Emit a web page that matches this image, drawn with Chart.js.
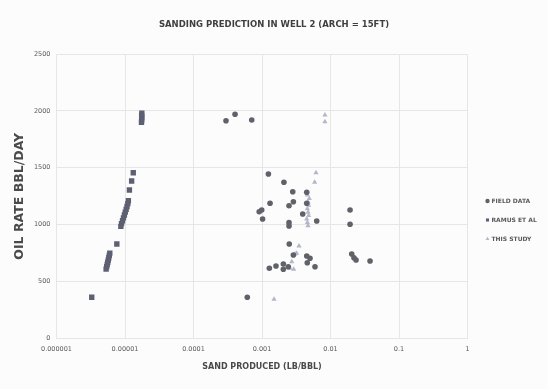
<!DOCTYPE html>
<html lang="en">
<head>
    <meta charset="UTF-8">
    <title>Sanding Prediction in Well 2</title>
    <script src="https://cdn.jsdelivr.net/npm/chart.js"></script>
    <style>
        body { margin: 0; background: #fcfcfc; }
        .chart-box { width: 548px; height: 389px; position: relative; }
    </style>
</head>
<body>
    <div class="chart-box">
        <canvas id="sandChart"></canvas>
    </div>
    <script>
        // Valores (x em LB/BBL, y em BBL/DAY)
        const fieldX = [0.000298, 0.000404, 0.000708, 0.00124, 0.00209, 0.00281, 0.0045, 0.00287, 0.00248, 0.00131,
                        0.00099, 0.00091, 0.00102, 0.0045, 0.00393, 0.00629, 0.00248, 0.00248, 0.0193, 0.0193,
                        0.0025, 0.0204, 0.022, 0.0236, 0.0378, 0.00287, 0.0045, 0.00502, 0.00458, 0.00594,
                        0.00128, 0.0016, 0.00205, 0.00205, 0.00242, 0.00061];
        const fieldY = [1914, 1970, 1920, 1446, 1373, 1290, 1285, 1202, 1167, 1188,
                        1129, 1114, 1050, 1188, 1094, 1032, 1018, 989, 1129, 1004,
                        830, 743, 710, 690, 681, 734, 725, 705, 666, 631,
                        617, 637, 655, 608, 631, 362];

        const ramusX = [0.00000327, 0.0000053, 0.0000054, 0.0000055, 0.0000056, 0.0000057, 0.0000058, 0.0000059, 0.000006,
                        0.0000076, 0.0000087, 0.0000089, 0.0000092, 0.0000095, 0.0000098, 0.0000101, 0.0000104, 0.0000107,
                        0.000011, 0.0000112, 0.0000116, 0.0000125, 0.0000132,
                        0.0000174, 0.0000175, 0.0000176, 0.0000175, 0.0000176];
        const ramusY = [362, 610, 630, 650, 670, 690, 710, 730, 750,
                        830, 985, 1010, 1035, 1060, 1085, 1110, 1135, 1160,
                        1185, 1210, 1305, 1384, 1457,
                        1900, 1920, 1940, 1960, 1980];

        const studyX = [0.0083, 0.0083, 0.00614, 0.00587, 0.0046, 0.0049, 0.0047, 0.0048, 0.0046, 0.0047,
                        0.0048, 0.0045, 0.0046, 0.0047, 0.00347, 0.00303, 0.00272, 0.00256, 0.0029, 0.0032, 0.0015];
        const studyY = [1964, 1905, 1457, 1373, 1260, 1230, 1200, 1170, 1140, 1110,
                        1080, 1050, 1020, 990, 813, 743, 675, 617, 608, 749, 344];

        const xTickValues = [0.000001, 0.00001, 0.0001, 0.001, 0.01, 0.1, 1];
        const xTickLabels = ['0.000001', '0.00001', '0.0001', '0.001', '0.01', '0.1', '1'];

        const toPoints = (xs, ys) => xs.map((x, i) => ({ x: x, y: ys[i] }));

        const textColor = '#5a5a5a';
        const gridColor = '#e6e6e6';

        // Legenda desenhada à direita, como no original
        const sideLegend = {
            id: 'sideLegend',
            afterDraw(chart) {
                const ctx = chart.ctx;
                const area = chart.chartArea;
                const x = area.right + 20;
                let y = area.top + 147;
                ctx.save();
                ctx.font = 'bold 6px "DejaVu Sans"';
                ctx.textBaseline = 'middle';
                chart.data.datasets.forEach(ds => {
                    ctx.fillStyle = ds.backgroundColor;
                    ctx.strokeStyle = ds.backgroundColor;
                    Chart.helpers.drawPoint(ctx, { pointStyle: ds.pointStyle, radius: 2.2, rotation: 0, borderWidth: 0 }, x, y);
                    ctx.fillStyle = textColor;
                    ctx.fillText(ds.label, x + 4, y);
                    y += 19;
                });
                ctx.restore();
            }
        };

        new Chart(document.getElementById('sandChart'), {
            type: 'scatter',
            data: {
                datasets: [{
                    label: 'FIELD DATA',
                    data: toPoints(fieldX, fieldY),
                    pointStyle: 'circle',
                    pointRadius: 2.8,
                    backgroundColor: '#606169',
                    borderColor: '#606169',
                    borderWidth: 0
                }, {
                    label: 'RAMUS ET AL',
                    data: toPoints(ramusX, ramusY),
                    pointStyle: 'rect',
                    pointRadius: 3.8,
                    backgroundColor: '#5c6072',
                    borderColor: '#5c6072',
                    borderWidth: 0
                }, {
                    label: 'THIS STUDY',
                    data: toPoints(studyX, studyY),
                    pointStyle: 'triangle',
                    pointRadius: 3,
                    backgroundColor: '#b2b6c8',
                    borderColor: '#b2b6c8',
                    borderWidth: 0
                }]
            },
            options: {
                responsive: true,
                maintainAspectRatio: false,
                animation: false,
                layout: { padding: 0 },
                scales: {
                    x: {
                        type: 'logarithmic',
                        min: 0.000001,
                        max: 1,
                        afterBuildTicks: scale => { scale.ticks = xTickValues.map(v => ({ value: v })); },
                        afterFit: scale => { scale.height = 50.5; },
                        ticks: {
                            autoSkip: false,
                            maxRotation: 0,
                            padding: 7,
                            color: textColor,
                            font: { family: 'DejaVu Sans', size: 6.5 },
                            callback: (value, index) => xTickLabels[index]
                        },
                        grid: { color: gridColor, drawTicks: false },
                        border: { display: false },
                        title: {
                            display: true,
                            text: 'SAND PRODUCED (LB/BBL)',
                            color: '#4a4a4a',
                            font: { family: 'DejaVu Sans', size: 8, weight: 'bold' },
                            padding: { top: 0, bottom: 17 }
                        }
                    },
                    y: {
                        min: 0,
                        max: 2500,
                        afterFit: scale => { scale.width = 56.5; },
                        ticks: {
                            stepSize: 500,
                            padding: 6,
                            color: textColor,
                            font: { family: 'DejaVu Sans', size: 6.5 },
                            callback: value => String(value)
                        },
                        grid: { color: gridColor, drawTicks: false },
                        border: { display: false },
                        title: {
                            display: true,
                            text: 'OIL RATE BBL/DAY',
                            color: '#4a4a4a',
                            font: { family: 'DejaVu Sans', size: 12.5, weight: 'bold' },
                            padding: { top: 12, bottom: 0 }
                        }
                    },
                    // espaço vazio à direita para a legenda
                    legendSpace: {
                        position: 'right',
                        afterFit: scale => { scale.width = 80.5; },
                        ticks: { display: false },
                        grid: { display: false },
                        border: { display: false }
                    }
                },
                plugins: {
                    legend: { display: false },
                    tooltip: { enabled: false },
                    title: {
                        display: true,
                        text: 'SANDING PREDICTION IN WELL 2 (ARCH = 15FT)',
                        color: '#3f3f3f',
                        font: { family: 'DejaVu Sans', size: 8.5, weight: 'bold' },
                        padding: { top: 20, bottom: 23.8 }
                    }
                }
            },
            plugins: [sideLegend]
        });
    </script>
</body>
</html>
